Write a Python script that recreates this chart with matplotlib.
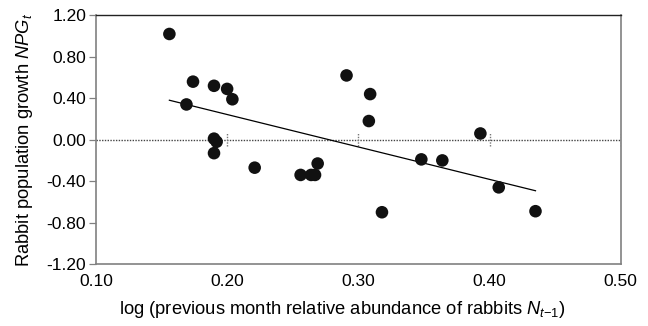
import numpy as np
import matplotlib
matplotlib.use("Agg")
import matplotlib.pyplot as plt

plt.rcParams['font.family'] = ['Liberation Sans', 'DejaVu Sans']
plt.rcParams['mathtext.fontset'] = 'custom'
plt.rcParams['mathtext.rm'] = 'Liberation Sans'
plt.rcParams['mathtext.it'] = 'Liberation Sans:italic'

# data
log_abundance = [0.156, 0.169, 0.174, 0.190, 0.200, 0.204, 0.190, 0.192, 0.190,
                 0.221, 0.256, 0.264, 0.267, 0.269, 0.291, 0.309, 0.308,
                 0.318, 0.348, 0.364, 0.393, 0.407, 0.435]
growth = [1.02, 0.34, 0.56, 0.52, 0.49, 0.39, 0.01, -0.02, -0.13,
          -0.27, -0.34, -0.34, -0.34, -0.23, 0.62, 0.44, 0.18,
          -0.70, -0.19, -0.20, 0.06, -0.46, -0.69]

# fitted line (slope, intercept) and its x range
fit_slope = -3.13
fit_intercept = 0.869
fit_x = [0.156, 0.435]

x_ticks = [0.10, 0.20, 0.30, 0.40, 0.50]
y_ticks = [-1.20, -0.80, -0.40, 0.00, 0.40, 0.80, 1.20]

fig = plt.figure(figsize=(6.48, 3.26), dpi=100)
ax = fig.add_axes([0.148, 0.190, 0.810, 0.763])

# dotted zero axis with its tick marks
ax.axhline(0, color='#444444', lw=1.0, ls=(0, (1, 1)), zorder=1)
ax.vlines(x_ticks[1:], -0.06, 0.06, color='#777777', lw=1.0, ls=(0, (1, 1)), zorder=1)

fx = np.array(fit_x)
ax.plot(fx, fit_slope * fx + fit_intercept, color='black', lw=0.9, zorder=2)
ax.scatter(log_abundance, growth, s=82, color='#111111', edgecolors='none', zorder=3)

ax.set_xlim(0.10, 0.50)
ax.set_ylim(-1.20, 1.20)
ax.set_xticks(x_ticks)
ax.set_xticklabels([f"{v:.2f}" for v in x_ticks])
ax.set_yticks(y_ticks)
ax.set_yticklabels([f"{v:.2f}" for v in y_ticks])
ax.tick_params(axis='x', length=0, pad=7, labelsize=12.5)
ax.tick_params(axis='y', length=5, width=0.9, color='#808080', pad=2, labelsize=12.5)

for side in ['left', 'right', 'bottom']:
    ax.spines[side].set_color('#808080')
    ax.spines[side].set_linewidth(1.2)
ax.spines['top'].set_color('#222222')
ax.spines['top'].set_linewidth(1.0)

ax.set_xlabel(r"log (previous month relative abundance of rabbits $\mathit{N}_{\mathit{t}\mathrm{-1}}$)",
              fontsize=13.2)
ax.xaxis.set_label_coords(0.47, -0.14)
ax.set_ylabel(r"Rabbit population growth $\mathit{NPG}_{\mathit{t}}$", fontsize=13.2)
ax.yaxis.set_label_coords(-0.116, 0.5)

fig.savefig("out.png", dpi=100)
